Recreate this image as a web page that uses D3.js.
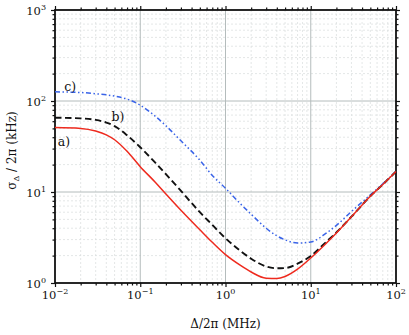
<!DOCTYPE html>
<html>
<head>
<meta charset="utf-8">
<script src="https://cdn.jsdelivr.net/npm/d3@7"></script>
<style>
  body { margin: 0; background: #fff; }
  text { font-family: "DejaVu Serif", serif; fill: #111; }
</style>
</head>
<body>
<svg id="chart" width="409" height="335"></svg>
<script>
const detuning = [0.01, 0.02, 0.03, 0.04, 0.05, 0.07, 0.1, 0.15, 0.2, 0.3, 0.5, 0.7, 1, 1.5, 2, 3, 4, 5, 7, 10, 15, 20, 30, 50, 70, 100];
// sigma / 2pi (kHz) for the three curves
const curveA = [51, 50, 46.8, 42.5, 37.5, 28, 19, 12.8, 9.5, 6.3, 3.85, 2.8, 2.05, 1.56, 1.32, 1.13, 1.12, 1.18, 1.42, 1.88, 2.7, 3.55, 5.35, 9.0, 12.1, 16.8];
const curveB = [65.5, 64.5, 62, 58, 53, 42, 31, 21, 15.7, 10.3, 6.0, 4.35, 3.1, 2.25, 1.85, 1.52, 1.45, 1.46, 1.63, 1.98, 2.8, 3.6, 5.35, 9.0, 12.1, 16.8];
const curveC = [126, 124, 120, 117, 113, 105, 90, 68, 53.5, 36.5, 22.4, 15.2, 11, 7.4, 5.7, 4.0, 3.3, 2.98, 2.75, 2.82, 3.5, 4.3, 6.1, 9.3, 12.3, 16.8];
const curveLabels = ["a)", "b)", "c)"];
const xTickExp = [-2, -1, 0, 1, 2];
const yTickExp = [0, 1, 2, 3];

const margin = {left: 55, top: 10, right: 13, bottom: 52};
const width = 409 - margin.left - margin.right;
const height = 335 - margin.top - margin.bottom;

let svg = d3.select("#chart");
let g = svg.append("g").attr("transform", "translate(" + margin.left + "," + margin.top + ")");

let x = d3.scaleLog().domain([0.01, 100]).range([0, width]);
let y = d3.scaleLog().domain([1, 1000]).range([height, 0]);

// all decade + minor tick values
function logTicks(lo, hi) {
    let out = [];
    for (let e = lo; e < hi; e++) {
        for (let m = 1; m < 10; m++) out.push(m * Math.pow(10, e));
    }
    out.push(Math.pow(10, hi));
    return out;
}
let xAll = logTicks(-2, 2);
let yAll = logTicks(0, 3);
let isMajor = v => Math.abs(Math.log10(v) - Math.round(Math.log10(v))) < 1e-9;

// minor grid (dashed)
g.append("g").selectAll("line")
    .data(xAll.filter(v => !isMajor(v)))
    .enter().append("line")
    .attr("x1", d => x(d)).attr("x2", d => x(d))
    .attr("y1", 0).attr("y2", height)
    .attr("stroke", "#d8dcdc").attr("stroke-width", 0.7).attr("stroke-dasharray", "2,2");
g.append("g").selectAll("line")
    .data(yAll.filter(v => !isMajor(v)))
    .enter().append("line")
    .attr("y1", d => y(d)).attr("y2", d => y(d))
    .attr("x1", 0).attr("x2", width)
    .attr("stroke", "#d8dcdc").attr("stroke-width", 0.7).attr("stroke-dasharray", "2,2");
// major grid
g.append("g").selectAll("line")
    .data(xTickExp.slice(1, -1))
    .enter().append("line")
    .attr("x1", d => x(Math.pow(10, d))).attr("x2", d => x(Math.pow(10, d)))
    .attr("y1", 0).attr("y2", height)
    .attr("stroke", "#b4bcbc").attr("stroke-width", 1);
g.append("g").selectAll("line")
    .data(yTickExp.slice(1, -1))
    .enter().append("line")
    .attr("y1", d => y(Math.pow(10, d))).attr("y2", d => y(Math.pow(10, d)))
    .attr("x1", 0).attr("x2", width)
    .attr("stroke", "#b4bcbc").attr("stroke-width", 1);

// axes on all four sides, ticks pointing out
function tickSize(d) { return isMajor(d) ? 4 : 2.5; }
function styleAxis(sel) {
    sel.select(".domain").remove();
    sel.selectAll(".tick text").remove();
    sel.selectAll(".tick line").attr("stroke", "#111").attr("stroke-width", 1.2);
}
let axBottom = g.append("g").attr("transform", "translate(0," + height + ")")
    .call(d3.axisBottom(x).tickValues(xAll).tickSize(4)).call(styleAxis);
axBottom.selectAll(".tick line").attr("y2", d => tickSize(d));
let axTop = g.append("g").call(d3.axisTop(x).tickValues(xAll).tickSize(4)).call(styleAxis);
axTop.selectAll(".tick line").attr("y2", d => -tickSize(d));
let axLeft = g.append("g").call(d3.axisLeft(y).tickValues(yAll).tickSize(4)).call(styleAxis);
axLeft.selectAll(".tick line").attr("x2", d => -tickSize(d));
let axRight = g.append("g").attr("transform", "translate(" + width + ",0)")
    .call(d3.axisRight(y).tickValues(yAll).tickSize(4)).call(styleAxis);
axRight.selectAll(".tick line").attr("x2", d => tickSize(d));

// frame
g.append("rect").attr("width", width).attr("height", height)
    .attr("fill", "none").attr("stroke", "#111").attr("stroke-width", 1.8);

// tick labels 10^n
let xl = g.append("g").selectAll("text").data(xTickExp).enter().append("text")
    .attr("x", d => x(Math.pow(10, d)))
    .attr("y", height + 16)
    .attr("text-anchor", "middle")
    .style("font-size", "11.5px");
xl.append("tspan").text("10");
xl.append("tspan").attr("dy", -5).style("font-size", "8px").text(d => d < 0 ? "\u2212" + (-d) : d);

let yl = g.append("g").selectAll("text").data(yTickExp).enter().append("text")
    .attr("x", -9)
    .attr("y", d => y(Math.pow(10, d)) + 5)
    .attr("text-anchor", "end")
    .style("font-size", "11.5px");
yl.append("tspan").text("10");
yl.append("tspan").attr("dy", -5).style("font-size", "8px").text(d => d);

// axis titles
let xt = svg.append("text")
    .attr("x", margin.left + width / 2)
    .attr("y", 328)
    .attr("text-anchor", "middle")
    .style("font-size", "12px");
xt.text("\u0394/2\u03c0 (MHz)");

let yt = svg.append("text")
    .attr("transform", "translate(16," + (margin.top + height / 2 + 4) + ") rotate(-90)")
    .attr("text-anchor", "middle")
    .style("font-size", "12px");
yt.append("tspan").text("\u03c3");
yt.append("tspan").attr("dy", 3).style("font-size", "8px").text("\u0394");
yt.append("tspan").attr("dy", -3).text(" / 2\u03c0 (kHz)");

// curves
let line = d3.line()
    .x((d, i) => x(detuning[i]))
    .y(d => y(d))
    .curve(d3.curveMonotoneX);

let series = [
    {vals: curveC, color: "#3a64e8", width: 1.5, dash: "5,2.5,1.5,2.5,1.5,2.5"},
    {vals: curveB, color: "#111111", width: 1.9, dash: "6.5,3.5"},
    {vals: curveA, color: "#ee2a1e", width: 1.5, dash: null}
];
g.append("g").selectAll("path").data(series).enter().append("path")
    .attr("d", d => line(d.vals))
    .attr("fill", "none")
    .attr("stroke", d => d.color)
    .attr("stroke-width", d => d.width)
    .attr("stroke-dasharray", d => d.dash);

// curve labels (anchored at detuning, sigma of text baseline)
let labelPos = [[0.0108, 32], [0.046, 60], [0.0128, 128]];
g.append("g").selectAll("text").data(curveLabels).enter().append("text")
    .attr("x", (d, i) => x(labelPos[i][0]))
    .attr("y", (d, i) => y(labelPos[i][1]))
    .style("font-size", "12.5px")
    .text(d => d);
</script>
</body>
</html>
